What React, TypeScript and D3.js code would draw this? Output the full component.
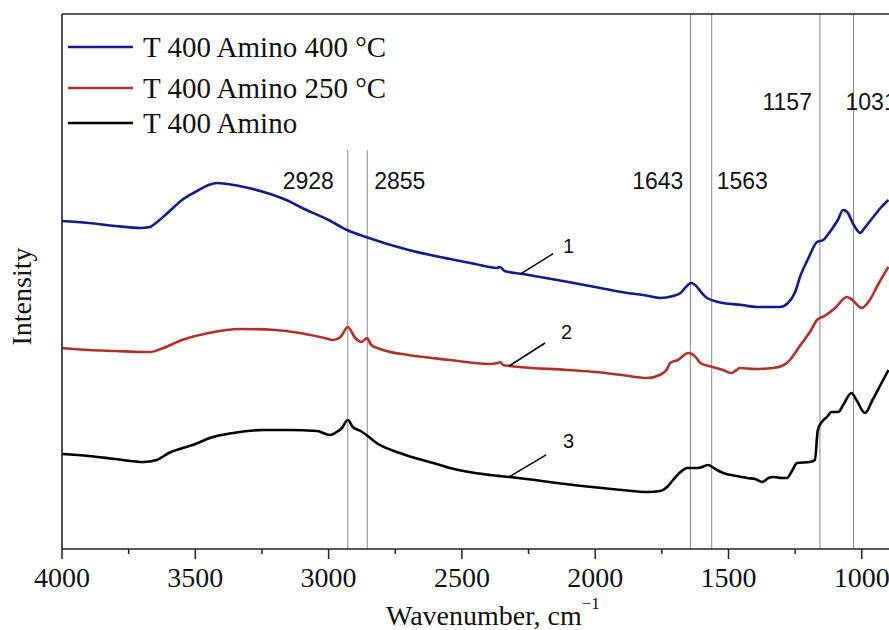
import React from "react";
import * as d3 from "d3";

// Wavenumbers (cm^-1) and intensities (a.u.)
const wnBlue = [4000,3900,3800,3707,3670,3658,3600,3550,3500,3450,3419,3380,3300,3231,3150,3107,3000,2931,2860,2700,2582,2545,2450,2370,2357,2340,2271,2100,2000,1900,1800,1757,1708,1680,1660,1640,1625,1600,1580,1520,1450,1393,1307,1277,1250,1232,1200,1168,1145,1120,1090,1070,1055,1030,1006,990,957,930,900];
const valBlue = [328,326,323,321,322,324,337,349,357,364,366,365,361,356,348,342,329,319,312,299,292,290,285,281,282,278,275,267,262,257,253,251,253,256,262,266,264,256,251,246,244,242,242,246,257,272,291,307,309,317,329,339,337,324,316,321,332,341,349];

const wnRed = [4000,3900,3800,3700,3670,3620,3550,3450,3332,3200,3107,3000,2983,2955,2928,2900,2876,2856,2840,2796,2700,2545,2400,2365,2357,2345,2323,2100,2000,1900,1806,1757,1730,1719,1690,1651,1620,1606,1560,1520,1490,1470,1457,1400,1333,1300,1281,1270,1230,1190,1168,1140,1100,1056,1040,1000,970,940,900];
const valRed = [201,199,198,197,197,201,209,216,220,219,216,210,209,212,222,211,207,211,204,199,194,189,185,186,187,184,183,179,177,174,171,174,180,186,189,196,191,186,182,179,176,179,181,180,181,183,186,189,204,219,229,233,241,252,250,241,249,264,282];

const wnBlack = [4000,3900,3800,3695,3645,3600,3500,3445,3358,3245,3150,3044,2995,2970,2950,2928,2909,2880,2858,2820,2733,2582,2545,2395,2320,2083,1900,1806,1757,1730,1708,1680,1655,1630,1614,1576,1550,1520,1470,1430,1400,1374,1350,1333,1300,1281,1260,1243,1195,1176,1165,1150,1131,1113,1088,1070,1039,1020,988,960,930,900];
const valBlack = [95,93,90,87,89,96,105,111,116,119,119,118,114,117,121,129,122,118,114,106,96,84,81,74,72,64,59,57,58,62,69,77,81,81,81,84,80,76,73,71,70,67,71,72,71,71,79,86,87,89,119,127,132,137,137,144,156,149,136,149,164,179];

const seriesNames = ["T 400 Amino 400 \u00B0C", "T 400 Amino 250 \u00B0C", "T 400 Amino"];
const seriesColors = ["#101c8c", "#b3302a", "#000000"];

const majorTicks = [4000, 3500, 3000, 2500, 2000, 1500, 1000];
const minorTicks = [3750, 3250, 2750, 2250, 1750, 1250];

const peakLines = [2928, 2855, 1643, 1563, 1157, 1031];
const peakLabels = ["2928", "2855", "1643", "1563", "1157", "1031"];

const curveLabels = ["1", "2", "3"];
const curveLabelWn = [2278, 2323, 2323];

const W = 889;
const H = 630;
const left = 62;
const right = 889;
const top = 14;
const bottom = 549;

export default function App() {
  const x = d3.scaleLinear().domain([4000, 898]).range([left, right]);
  const y = d3.scaleLinear().domain([0, 535]).range([bottom, top]);

  const data = [
    wnBlue.map((w, i) => ({ w, v: valBlue[i] })),
    wnRed.map((w, i) => ({ w, v: valRed[i] })),
    wnBlack.map((w, i) => ({ w, v: valBlack[i] })),
  ];

  const line = d3
    .line<{ w: number; v: number }>()
    .x((d) => x(d.w))
    .y((d) => y(d.v))
    .curve(d3.curveMonotoneX);

  const valueAt = (pts: { w: number; v: number }[], w: number) => {
    for (let i = 0; i < pts.length - 1; i++) {
      const a = pts[i], b = pts[i + 1];
      if (w <= a.w && w >= b.w) {
        const t = (a.w - w) / (a.w - b.w);
        return a.v + t * (b.v - a.v);
      }
    }
    return pts[pts.length - 1].v;
  };

  const serif = "'Liberation Serif', 'Times New Roman', serif";
  const sans = "'Liberation Sans', Arial, sans-serif";

  const peakAnchor = ["end", "start", "end", "start", "end", "start"];
  const peakDx = [-14, 7, -7, 5, -8, -8];
  const peakBaseline = [189, 189, 189, 189, 110, 110];
  const peakTop = [150, 150, top, top, top, top];

  const legendY = [47, 88, 123];
  const leaderOff = [
    { dx: 32, dy: -20, lx: 42, ly: -21 },
    { dx: 36, dy: -23, lx: 52, ly: -27 },
    { dx: 37, dy: -22, lx: 54, ly: -29 },
  ];

  return (
    <>
      <style>{"body{margin:0;overflow:hidden}"}</style>
      <svg width={W} height={H} style={{ display: "block", background: "#fff" }}>
        {peakLines.map((p, i) => (
          <line key={"pl" + i} x1={x(p)} x2={x(p)} y1={peakTop[i]} y2={bottom} stroke="#8a8a8a" strokeWidth={1} />
        ))}
        {peakLines.map((p, i) => (
          <text
            key={"pt" + i}
            x={x(p) + peakDx[i]}
            y={peakBaseline[i]}
            textAnchor={peakAnchor[i] as any}
            fontFamily={sans}
            fontSize={23}
            fill="#111"
          >
            {peakLabels[i]}
          </text>
        ))}

        {data.map((pts, i) => (
          <path key={"s" + i} d={line(pts) || ""} fill="none" stroke={seriesColors[i]} strokeWidth={2.6} strokeLinejoin="round" />
        ))}

        {data.map((pts, i) => {
          const ax = x(curveLabelWn[i]);
          const ay = y(valueAt(pts, curveLabelWn[i]));
          const o = leaderOff[i];
          return (
            <g key={"cl" + i}>
              <line x1={ax} y1={ay} x2={ax + o.dx} y2={ay + o.dy} stroke="#000" strokeWidth={1.5} />
              <text x={ax + o.lx} y={ay + o.ly} fontFamily={sans} fontSize={20} fill="#111">
                {curveLabels[i]}
              </text>
            </g>
          );
        })}

        <line x1={left} x2={right} y1={top} y2={top} stroke="#222" strokeWidth={1.6} />
        <line x1={left} x2={left} y1={top} y2={bottom} stroke="#222" strokeWidth={1.6} />
        <line x1={left} x2={right} y1={bottom} y2={bottom} stroke="#222" strokeWidth={1.6} />

        {majorTicks.map((t) => (
          <g key={"mt" + t}>
            <line x1={x(t)} x2={x(t)} y1={bottom} y2={bottom + 10} stroke="#222" strokeWidth={1.5} />
            <text x={x(t)} y={587} textAnchor="middle" fontFamily={serif} fontSize={28} fill="#111">
              {t}
            </text>
          </g>
        ))}
        {minorTicks.map((t) => (
          <line key={"nt" + t} x1={x(t)} x2={x(t)} y1={bottom} y2={bottom + 5} stroke="#222" strokeWidth={1.5} />
        ))}

        <text x={386} y={625} fontFamily={serif} fontSize={28} fill="#111">
          Wavenumber, cm
          <tspan dy={-16} fontSize={17}>{"\u2212"}1</tspan>
        </text>
        <text
          transform={`translate(31, ${(top + bottom) / 2 + 15}) rotate(-90)`}
          textAnchor="middle"
          fontFamily={serif}
          fontSize={28}
          fill="#111"
        >
          Intensity
        </text>

        {seriesNames.map((n, i) => (
          <g key={"lg" + i}>
            <line x1={68} x2={133} y1={legendY[i]} y2={legendY[i]} stroke={seriesColors[i]} strokeWidth={2.6} />
            <text x={143} y={legendY[i] + 10} fontFamily={serif} fontSize={29} fill="#111">
              {n}
            </text>
          </g>
        ))}
      </svg>
    </>
  );
}
